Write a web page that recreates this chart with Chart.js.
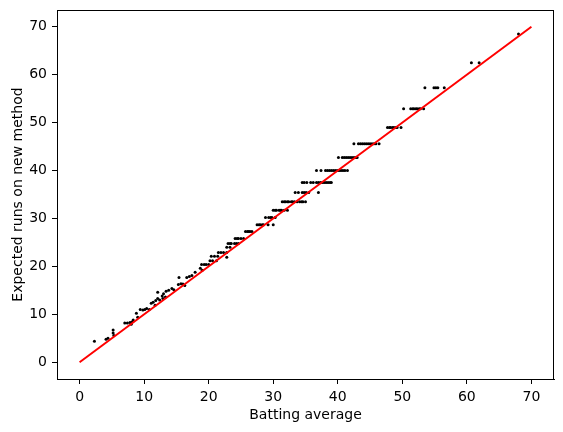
<!DOCTYPE html>
<html>
<head>
<meta charset="utf-8">
<script src="https://cdn.jsdelivr.net/npm/chart.js@4/dist/chart.umd.min.js"></script>
<style>
  html, body { margin: 0; padding: 0; background: #fff; }
  #wrap { width: 563px; height: 432px; }
</style>
</head>
<body>
<div id="wrap"><canvas id="chart"></canvas></div>
<script>
// batting average (x) vs expected runs on new method (y)
const battingAvg = [
  2.3, 4.1, 4.4, 5.2, 5.2, 5.3,
  7.0, 7.4, 7.8, 8.1, 8.3, 8.0,
  8.8, 9.0, 9.4, 9.8, 10.1, 10.4, 10.8,
  11.1, 11.4, 11.8, 12.1, 11.7, 12.4, 12.9,
  12.1, 13.0, 13.4, 13.8, 14.3, 14.6, 12.8, 13.3,
  15.3, 15.7, 16.0, 15.4, 16.6, 17.0, 17.4, 17.9, 16.3,
  18.7, 18.9, 19.3, 19.6, 19.0,
  20.2, 20.6, 21.2, 20.4, 20.9, 21.4, 20.0,
  21.5, 21.9, 22.3, 22.8, 22.8,
  22.8, 23.3,
  23.0, 23.3, 23.5, 24.0, 24.3, 24.6,
  24.1, 24.4, 24.6, 25.0, 25.4,
  25.7, 26.0, 26.2, 26.4, 26.7,
  27.5, 27.8, 28.0, 28.3, 28.5, 29.2, 30.0,
  28.8, 29.3, 29.6, 29.8, 30.3,
  30.0, 30.3, 30.5, 30.9, 31.1, 31.3, 31.7, 32.2,
  31.4, 31.7, 31.9, 32.2, 32.4, 32.8, 33.0, 33.3, 33.7, 34.1, 34.4, 34.6, 35.0,
  33.4, 33.9, 34.5, 34.8, 35.1, 35.5, 37.0,
  34.5, 34.8, 35.2, 35.8, 36.2, 36.7, 37.0, 37.3, 37.6, 37.9, 38.2, 38.5, 38.8, 39.0,
  36.7, 37.4, 38.1, 38.4, 38.7, 39.0, 39.3, 39.6, 39.9, 40.2, 40.5, 40.8, 41.1, 41.5,
  40.1, 40.7, 41.0, 41.3, 41.6, 41.9, 42.2, 42.5, 42.8, 43.0,
  42.5, 43.2, 43.5, 43.8, 44.1, 44.4, 44.7, 45.0, 45.3, 45.6, 45.9, 46.4,
  47.7, 48.0, 48.2, 48.5, 48.7, 49.0, 49.2, 49.8,
  50.2, 51.3, 51.6, 51.8, 52.1, 52.3, 52.6, 52.8, 53.3,
  53.5, 54.9, 55.2, 55.5, 56.5,
  60.7, 61.9,
  68.0
];
const expectedRuns = [
  4.4, 4.8, 5.0, 6.1, 6.7, 5.6,
  8.2, 8.2, 8.3, 8.4, 8.8, 7.9,
  10.2, 9.4, 11.0, 10.9, 11.0, 11.2, 11.0,
  12.3, 12.5, 12.9, 13.3, 11.9, 13.0, 13.3,
  14.6, 14.3, 14.8, 15.0, 15.4, 15.1, 13.8, 13.6,
  16.2, 16.4, 16.3, 17.7, 17.7, 17.9, 18.1, 18.8, 16.0,
  19.6, 20.4, 20.4, 20.4, 19.2,
  21.2, 21.2, 21.2, 22.1, 22.1, 22.1, 20.4,
  22.9, 22.9, 22.9, 22.9, 21.9,
  24.0, 24.0,
  24.8, 24.8, 24.8, 24.8, 24.8, 24.8,
  25.8, 25.8, 25.8, 25.8, 25.8,
  27.3, 27.3, 27.3, 27.3, 27.3,
  28.7, 28.7, 28.7, 28.7, 28.7, 28.7, 28.7,
  30.2, 30.2, 30.2, 30.2, 30.2,
  31.7, 31.7, 31.7, 31.7, 31.7, 31.7, 31.7, 31.7,
  33.5, 33.5, 33.5, 33.5, 33.5, 33.5, 33.5, 33.5, 33.5, 33.5, 33.5, 33.5, 33.5,
  35.4, 35.4, 35.4, 35.4, 35.4, 35.4, 35.4,
  37.5, 37.5, 37.5, 37.5, 37.5, 37.5, 37.5, 37.5, 37.5, 37.5, 37.5, 37.5, 37.5, 37.5,
  40.0, 40.0, 40.0, 40.0, 40.0, 40.0, 40.0, 40.0, 40.0, 40.0, 40.0, 40.0, 40.0, 40.0,
  42.7, 42.7, 42.7, 42.7, 42.7, 42.7, 42.7, 42.7, 42.7, 42.7,
  45.6, 45.6, 45.6, 45.6, 45.6, 45.6, 45.6, 45.6, 45.6, 45.6, 45.6, 45.6,
  49.0, 49.0, 49.0, 49.0, 49.0, 49.0, 49.0, 49.0,
  52.9, 52.9, 52.9, 52.9, 52.9, 52.9, 52.9, 52.9, 52.9,
  57.3, 57.3, 57.3, 57.3, 57.3,
  62.5, 62.5,
  68.5
];
// the y = x reference line
const lineX = [0, 70];
const lineY = [0, 70];

const xTicks = [0, 10, 20, 30, 40, 50, 60, 70];
const yTicks = [0, 10, 20, 30, 40, 50, 60, 70];

const scatterPoints = battingAvg.map((x, i) => ({ x: x, y: expectedRuns[i] }));
const linePoints = lineX.map((x, i) => ({ x: x, y: lineY[i] }));

const fontFamily = '"DejaVu Sans", sans-serif';

// full box round the plot, like matplotlib spines
const frame = {
    id: 'frame',
    afterDraw(chart) {
        const { ctx, chartArea: a } = chart;
        ctx.save();
        ctx.strokeStyle = '#000';
        ctx.lineWidth = 1;
        ctx.strokeRect(a.left + 0.5, a.top + 0.5, a.right - a.left - 1, a.bottom - a.top);
        ctx.restore();
    }
};

const ctx = document.getElementById('chart').getContext('2d');
new Chart(ctx, {
    type: 'scatter',
    data: {
        datasets: [
            {
                type: 'line',
                data: linePoints,
                borderColor: '#ff0000',
                borderWidth: 2,
                pointRadius: 0,
                fill: false,
                order: 0
            },
            {
                data: scatterPoints,
                backgroundColor: '#000',
                borderColor: '#000',
                borderWidth: 0,
                pointRadius: 1.5,
                order: 1
            }
        ]
    },
    options: {
        responsive: true,
        maintainAspectRatio: false,
        animation: false,
        layout: { padding: { top: 10, right: 9, left: 0, bottom: 0 } },
        plugins: {
            legend: { display: false },
            tooltip: { enabled: false }
        },
        scales: {
            x: {
                type: 'linear',
                min: -3.5,
                max: 73.5,
                afterBuildTicks: (axis) => { axis.ticks = xTicks.map(v => ({ value: v })); },
                afterFit: (axis) => { axis.height = 53; axis.paddingLeft = 0; axis.paddingRight = 0; },
                grid: { drawOnChartArea: false, drawTicks: true, tickLength: 5, color: '#000' },
                border: { display: true, color: '#000', width: 1 },
                ticks: { color: '#000', padding: 5, font: { family: fontFamily, size: 14 } },
                title: {
                    display: true,
                    text: 'Batting average',
                    color: '#000',
                    padding: { top: 0, bottom: 8 },
                    font: { family: fontFamily, size: 14 }
                }
            },
            y: {
                type: 'linear',
                min: -3.5,
                max: 73.5,
                afterBuildTicks: (axis) => { axis.ticks = yTicks.map(v => ({ value: v })); },
                afterFit: (axis) => { axis.width = 57; axis.paddingTop = 0; axis.paddingBottom = 0; },
                grid: { drawOnChartArea: false, drawTicks: true, tickLength: 5, color: '#000' },
                border: { display: true, color: '#000', width: 1 },
                ticks: { color: '#000', padding: 5, font: { family: fontFamily, size: 14 } },
                title: {
                    display: true,
                    text: 'Expected runs on new method',
                    color: '#000',
                    padding: { top: 10, bottom: 0 },
                    font: { family: fontFamily, size: 14 }
                }
            }
        }
    },
    plugins: [frame]
});
</script>
</body>
</html>
